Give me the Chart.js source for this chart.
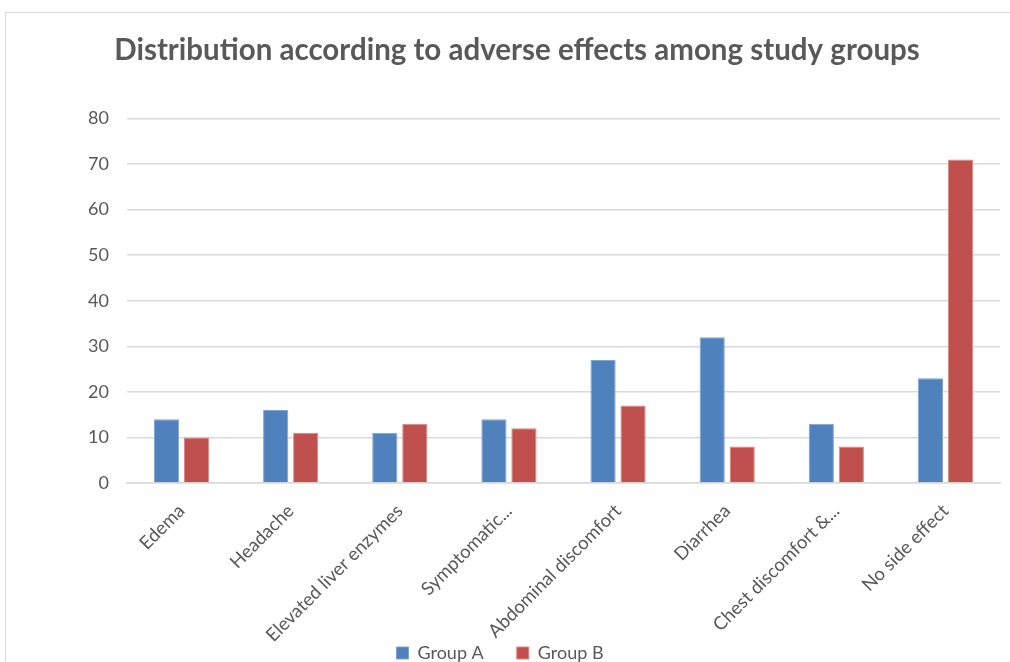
<!DOCTYPE html>
<html>
<head>
<meta charset="utf-8">
<script src="https://cdn.jsdelivr.net/npm/chart.js@4/dist/chart.umd.min.js"></script>
<style>
  html, body { margin: 0; padding: 0; background: #fff; overflow: hidden; }
  #wrap { position: relative; width: 1010px; height: 672px; }
  #frame { position: absolute; left: 5px; top: 12px; width: 1100px; height: 800px;
           border: 1px solid #d9d9d9; box-sizing: border-box; }
  canvas { position: absolute; left: 0; top: 0; }
</style>
</head>
<body>
<div id="wrap">
  <div id="frame"></div>
  <canvas id="c" width="1010" height="672"></canvas>
</div>
<script>
// Adverse effects reported in each study group
const categories = [
  "Edema",
  "Headache",
  "Elevated liver enzymes",
  "Symptomatic...",
  "Abdominal discomfort",
  "Diarrhea",
  "Chest discomfort &...",
  "No side effect"
];
const groupA = [14, 16, 11, 14, 27, 32, 13, 23];
const groupB = [10, 11, 13, 12, 17, 8, 8, 71];
const yTicks = [0, 10, 20, 30, 40, 50, 60, 70, 80];

const FONT = "Lato, 'Open Sans', sans-serif";
const GRAY = "#595959";

// Let the slanted category labels run down past the axis box,
// and nudge the title's centring box a little to the right.
const layoutTweaks = {
  id: "layoutTweaks",
  afterLayout(chart) {
    chart.scales.x.bottom = chart.height;
    if (chart.titleBlock) chart.titleBlock.left = 34;
  }
};

new Chart(document.getElementById("c"), {
  type: "bar",
  data: {
    labels: categories,
    datasets: [
      { label: "Group A", data: groupA, backgroundColor: "#4f81bd",
        borderColor: "#7fa3d3", borderWidth: 1 },
      { label: "Group B", data: groupB, backgroundColor: "#c0504d",
        borderColor: "#d98885", borderWidth: 1 }
    ]
  },
  plugins: [layoutTweaks],
  options: {
    responsive: false,
    animation: false,
    events: [],
    layout: { padding: { left: 0, right: 10, top: 0, bottom: 0 } },
    datasets: { bar: { categoryPercentage: 0.55, barPercentage: 0.84 } },
    plugins: {
      title: {
        display: true,
        text: "Distribution according to adverse effects among study groups",
        color: GRAY,
        font: { family: FONT, size: 29.5, weight: "bold" },
        padding: { top: 33, bottom: 50 }
      },
      legend: {
        position: "bottom",
        labels: {
          color: GRAY,
          font: { family: FONT, size: 18 },
          boxWidth: 12, boxHeight: 12,
          padding: 33
        }
      },
      tooltip: { enabled: false }
    },
    scales: {
      y: {
        min: 0, max: 80,
        afterBuildTicks: (s) => { s.ticks = yTicks.map(v => ({ value: v })); },
        afterFit: (s) => { s.width = 127; },
        grid: { color: "#d9d9d9", lineWidth: 1.5, drawTicks: false },
        border: { display: false },
        ticks: { color: GRAY, font: { family: FONT, size: 18 }, padding: 18 }
      },
      x: {
        afterFit: (s) => { s.height = 128; },
        grid: { display: false },
        border: { color: "#d9d9d9", width: 1.5 },
        ticks: { color: GRAY, font: { family: FONT, size: 18.5 },
                 minRotation: 45, maxRotation: 45, autoSkip: false, padding: 9 }
      }
    }
  }
});
</script>
</body>
</html>
